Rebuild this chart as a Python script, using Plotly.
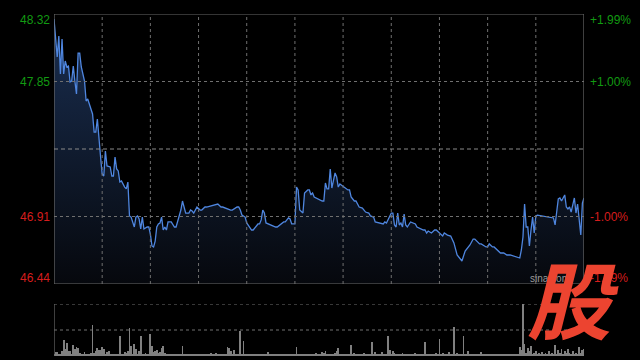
import plotly.graph_objects as go

# ---------------- data ----------------
minutes = [0, 2, 3, 4, 5, 6, 7, 8, 9, 10, 11, 12, 13, 14, 15, 16, 17, 19, 20, 21,
           22, 23, 24, 25, 26, 27, 28, 29, 30, 31, 32, 33, 35, 36, 37, 38, 39, 40, 41, 42,
           44, 45, 46, 47, 48, 50, 51, 52, 53, 54, 55, 56, 58, 59, 60, 61, 62, 63, 64, 65,
           66, 67, 68, 69, 70, 71, 73, 75, 76, 78, 79, 80, 82, 84, 85, 86, 87, 89, 91, 92,
           94, 95, 101, 102, 104, 105, 110, 111, 114, 115, 116, 117, 119, 120, 123, 124, 127, 128, 129, 130,
           131, 132, 138, 139, 143, 144, 146, 147, 148, 150, 151, 152, 153, 155, 156, 158, 159, 160, 161, 162,
           167, 168, 169, 170, 171, 172, 173, 175, 176, 177, 178, 179, 183, 184, 185, 187, 188, 190, 192, 194,
           196, 197, 199, 200, 204, 205, 206, 207, 210, 211, 212, 213, 214, 215, 216, 217, 218, 219, 220, 221,
           222, 225, 226, 230, 231, 232, 233, 235, 237, 238, 240, 242, 243, 245, 247, 248, 249, 251, 252, 253,
           254, 256, 257, 259, 261, 262, 265, 266, 269, 270, 271, 273, 274, 278, 280, 282, 284, 289, 290, 291,
           292, 293, 294, 295, 296, 297, 298, 299, 300, 301, 310, 311, 312, 313, 314, 315, 316, 317, 318, 319,
           320, 321, 322, 324, 325, 326, 327, 328, 329, 330]
prices = [48.285, 48.021, 48.167, 47.902, 48.146, 47.902, 47.993, 47.951, 47.958, 47.847,
          47.853, 47.958, 47.853, 47.763, 48.048, 48.048, 47.951, 47.853, 47.714, 47.728,
          47.693, 47.659, 47.624, 47.498, 47.498, 47.589, 47.436, 47.324, 47.206, 47.192,
          47.366, 47.262, 47.255, 47.192, 47.192, 47.324, 47.241, 47.227, 47.150, 47.157,
          47.115, 47.102, 47.150, 46.914, 46.906, 46.837, 46.906, 46.914, 46.893, 46.823,
          46.906, 46.823, 46.837, 46.837, 46.788, 46.705, 46.698, 46.739, 46.837, 46.858,
          46.865, 46.906, 46.816, 46.837, 46.816, 46.872, 46.872, 46.837, 46.837, 46.920,
          46.955, 47.018, 46.934, 46.934, 46.955, 46.948, 46.934, 46.976, 46.955, 46.955,
          46.976, 46.976, 46.997, 46.997, 46.976, 46.976, 46.955, 46.955, 46.976, 46.976,
          46.955, 46.920, 46.906, 46.865, 46.816, 46.816, 46.858, 46.858, 46.886, 46.955,
          46.934, 46.865, 46.837, 46.837, 46.872, 46.872, 46.900, 46.893, 46.858, 46.858,
          47.115, 47.095, 46.955, 46.934, 47.074, 47.095, 47.095, 47.060, 47.074, 47.046,
          47.018, 47.018, 47.143, 47.102, 47.102, 47.241, 47.108, 47.213, 47.185, 47.115,
          47.136, 47.129, 47.095, 47.095, 47.046, 47.018, 47.018, 46.976, 46.969, 46.941,
          46.934, 46.914, 46.906, 46.872, 46.858, 46.858, 46.872, 46.865, 46.934, 46.934,
          46.851, 46.837, 46.934, 46.851, 46.865, 46.837, 46.927, 46.851, 46.837, 46.851,
          46.872, 46.858, 46.837, 46.816, 46.816, 46.795, 46.809, 46.795, 46.816, 46.816,
          46.795, 46.774, 46.795, 46.781, 46.774, 46.746, 46.726, 46.642, 46.628, 46.621,
          46.600, 46.670, 46.684, 46.712, 46.753, 46.753, 46.719, 46.719, 46.698, 46.698,
          46.719, 46.698, 46.698, 46.656, 46.656, 46.642, 46.642, 46.621, 46.621, 46.677,
          46.767, 46.997, 46.837, 46.837, 46.705, 46.816, 46.906, 46.795, 46.914, 46.920,
          46.900, 46.900, 46.851, 46.941, 47.032, 47.039, 47.018, 47.039, 47.060, 46.976,
          46.962, 46.976, 46.941, 47.039, 46.934, 46.997, 46.906, 46.781, 47.004, 47.039,
          47.053]

volumes = [2, 4, 4, 1, 2, 5, 16, 7, 13, 5,
           5, 2, 11, 7, 9, 8, 3, 1, 2, 4,
           1, 2, 1, 3, 30, 3, 5, 8, 6, 6,
           9, 7, 2, 4, 5, 2, 1, 1, 2, 1,
           2, 20, 2, 1, 4, 3, 5, 27, 10, 2,
           12, 7, 1, 5, 20, 2, 1, 3, 1, 2,
           22, 10, 4, 5, 6, 3, 4, 8, 10, 3,
           1, 2, 1, 1, 2, 1, 2, 1, 1, 2,
           10, 2, 1, 1, 2, 1, 1, 2, 1, 1,
           2, 1, 1, 2, 1, 1, 2, 1, 3, 1,
           1, 3, 2, 1, 1, 2, 1, 2, 9, 8,
           5, 2, 6, 1, 2, 1, 25, 2, 15, 2,
           1, 1, 2, 1, 1, 2, 1, 1, 2, 1,
           1, 2, 1, 4, 1, 1, 2, 1, 1, 2,
           1, 1, 2, 1, 1, 2, 1, 1, 2, 1,
           2, 9, 1, 2, 1, 2, 1, 1, 2, 1,
           2, 1, 2, 3, 1, 2, 1, 4, 3, 5,
           2, 1, 2, 1, 2, 3, 5, 8, 2, 1,
           2, 1, 1, 2, 1, 11, 1, 3, 2, 1,
           2, 1, 2, 3, 1, 2, 1, 2, 14, 2,
           4, 2, 1, 2, 4, 1, 2, 1, 20, 6,
           2, 5, 3, 2, 1, 2, 1, 3, 2, 1,
           2, 1, 2, 1, 2, 3, 1, 2, 1, 2,
           1, 14, 1, 2, 1, 2, 1, 2, 3, 1,
           17, 2, 3, 1, 2, 1, 4, 1, 2, 28,
           2, 3, 1, 2, 1, 20, 2, 1, 5, 1,
           2, 1, 1, 2, 1, 2, 4, 1, 1, 2,
           1, 1, 2, 1, 1, 2, 1, 2, 1, 1,
           2, 1, 1, 2, 1, 2, 1, 2, 1, 2,
           9, 6, 51, 12, 3, 8, 5, 10, 2, 3,
           5, 2, 3, 2, 4, 2, 3, 2, 5, 2,
           3, 2, 11, 2, 6, 3, 7, 2, 5, 3,
           7, 3, 2, 5, 2, 3, 2, 9, 3, 6,
           7]
vol_minutes = list(range(len(volumes)))

price_ticks = [48.32, 47.85, 47.38, 46.91, 46.44]
pct_labels = ["+1.99%", "+1.00%", "", "-1.00%", "-1.99%"]
prev_close = 47.38
grid_minutes = [30, 60, 90, 120, 150, 180, 210, 240, 270, 300]
x_max = 330

# ---------------- figure ----------------
ymin, ymax = min(price_ticks), max(price_ticks)
fig = go.Figure()

fig.add_trace(go.Scatter(
    x=minutes, y=prices, mode="lines",
    line=dict(color="#4f86df", width=1.3),
    fill="tozeroy",
    fillgradient=dict(type="vertical", start=ymin, stop=ymax,
                      colorscale=[[0, "#06080d"], [1, "#1a2f52"]]),
    xaxis="x", yaxis="y", hoverinfo="skip", showlegend=False))

fig.add_trace(go.Bar(
    x=vol_minutes, y=volumes, width=0.5,
    marker=dict(color="#808080", line=dict(width=0)),
    xaxis="x2", yaxis="y2", hoverinfo="skip", showlegend=False))

frame = "#6a6a6a"
grid = "#707070"
shapes = []
for (x0, y0, x1, y1) in [(0, ymax, x_max, ymax), (0, ymin, x_max, ymin),
                         (0, ymin, 0, ymax), (x_max, ymin, x_max, ymax)]:
    shapes.append(dict(type="line", xref="x", yref="y", x0=x0, y0=y0, x1=x1, y1=y1,
                       line=dict(color=frame, width=1.2), layer="above"))
for gm in grid_minutes:
    shapes.append(dict(type="line", xref="x", yref="y", x0=gm, x1=gm, y0=ymin, y1=ymax,
                       line=dict(color=grid, width=1, dash="dot"), layer="above"))
for t in price_ticks[1:-1]:
    is_pc = (t == prev_close)
    shapes.append(dict(type="line", xref="x", yref="y", x0=0, x1=x_max, y0=t, y1=t,
                       line=dict(color="#8a8a8a" if is_pc else grid, width=1,
                                 dash="4px,3px" if is_pc else "dot"),
                       layer="above"))
vmax = max(volumes)
shapes.append(dict(type="line", xref="x2", yref="y2", x0=0, x1=0, y0=0, y1=vmax,
                   line=dict(color=frame, width=1.2)))
for frac in [1.0, 0.5]:
    shapes.append(dict(type="line", xref="x2", yref="y2", x0=0, x1=x_max,
                       y0=vmax * frac, y1=vmax * frac,
                       line=dict(color=grid, width=1, dash="dot"), layer="below"))

annotations = []
green, red = "#129a12", "#d61d1d"
for i, t in enumerate(price_ticks):
    col = green if t > prev_close else red
    ys = -6 if i == 0 else (6 if i == len(price_ticks) - 1 else 0)
    if t != prev_close:
        annotations.append(dict(x=0, xref="paper", y=t, yref="y", text=f"{t:.2f}",
                                showarrow=False, xanchor="right", yanchor="middle",
                                xshift=-2, yshift=ys,
                                font=dict(color=col, size=12, family="Liberation Sans, Arial")))
    if pct_labels[i]:
        annotations.append(dict(x=1, xref="paper", y=t, yref="y", text=pct_labels[i],
                                showarrow=False, xanchor="left", yanchor="middle",
                                xshift=4, yshift=ys,
                                font=dict(color=col, size=12, family="Liberation Sans, Arial")))
# watermark
annotations.append(dict(x=1, xref="paper", y=ymin, yref="y", text="sina.com",
                        showarrow=False, xanchor="right", yanchor="bottom", xshift=-12, yshift=-2,
                        font=dict(color="#9a9a9a", size=10, family="Liberation Sans, Arial")))
annotations.append(dict(x=0.979, xref="paper", y=0.175, yref="paper", text="<b>股</b>",
                        showarrow=False, xanchor="center", yanchor="middle",
                        font=dict(color="#ec4430", size=84,
                                  family="Noto Sans CJK SC", style="italic", weight=900)))

fig.update_layout(
    width=640, height=360,
    margin=dict(l=54, r=56, t=14, b=4),
    paper_bgcolor="#000000", plot_bgcolor="#000000",
    xaxis=dict(domain=[0, 1], range=[0, x_max], visible=False, fixedrange=True),
    yaxis=dict(domain=[72 / 342, 1], range=[ymin, ymax], visible=False),
    xaxis2=dict(domain=[0, 1], range=[0, x_max], visible=False, anchor="y2"),
    yaxis2=dict(domain=[0, 52 / 342], range=[0, vmax], visible=False, anchor="x2"),
    shapes=shapes, annotations=annotations,
    bargap=0,
)

fig.write_html("out.html")
